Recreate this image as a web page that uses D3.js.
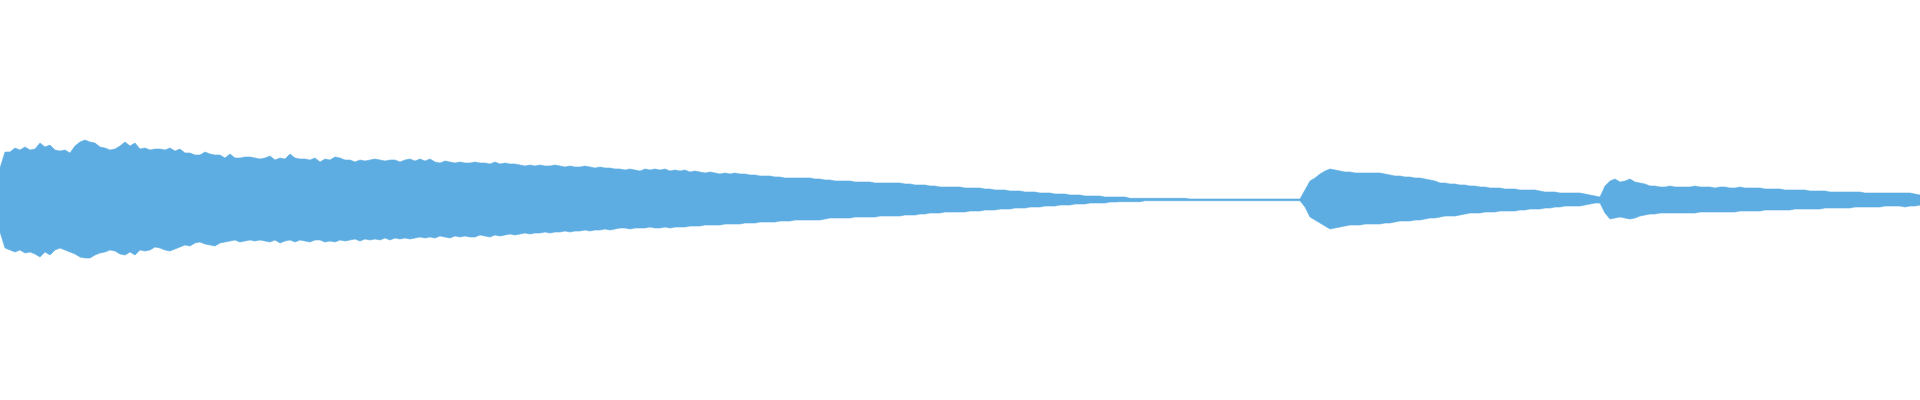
<!DOCTYPE html>
<html>
<head>
<meta charset="utf-8">
<script src="https://cdn.jsdelivr.net/npm/d3@7"></script>
<style>
  html, body { margin: 0; padding: 0; background: #ffffff; }
  svg { display: block; }
</style>
</head>
<body>
<svg id="chart" width="1920" height="400"></svg>
<script>
// Waveform envelope, one sample every 5 px-column (385 samples), amplitude units of 1/200 full scale
const upperPeaks = [
  32,48,48,52,50,53,50,51,57,53,55,50,49,50,47,54,58,60,58,57,53,52,50,51,54,58,54,57,51,52,50,51,
  51,50,52,49,51,47,47,45,45,48,46,45,45,42,46,42,42,43,43,42,41,42,44,40,42,41,46,42,41,41,40,42,
  38,41,40,43,42,40,40,38,40,39,40,41,40,39,40,40,38,40,41,39,41,39,41,38,37,39,38,37,38,37,37,38,
  37,37,36,38,36,37,36,36,35,34,35,34,35,34,34,35,34,33,34,33,33,34,33,32,33,32,32,31,31,30,31,30,
  29,31,30,31,30,31,29,30,29,30,28,29,28,27,28,27,26,27,26,27,26,26,25,25,24,24,24,23,23,22,22,22,
  22,22,22,21,21,20,20,19,19,19,19,18,18,18,18,17,17,17,17,17,17,16,16,15,15,15,14,14,13,13,13,13,
  13,12,12,12,12,11,11,10,10,10,9,9,9,8,8,8,7,7,7,6,6,6,5,5,5,4,4,4,4,3,3,3,
  3,3,1.7,1.7,1.7,1.7,1.7,1.7,1.7,1.7,1.7,1.7,1.7,1.7,1,1,1,1,1,1,1,1,1,1,1,1,1,1,1,1,1,1,
  1,1,1,1,1,10,19,22,26,29,31,30,29,28,28,27,27,27,27,27,27,26,25,24,24,23,23,22,22,21,20,19,
  17,17,16,16,15,15,14,14,13,13,12,12,12,11,11,11,10,10,10,10,9,8,8,8,7,7,7,7,7,6,5,4,
  3,14,19,21,18,19,21,18,17,16,14,14,13,13,14,13,13,13,13,14,13,13,13,12,13,13,12,12,13,12,12,12,
  12,11,11,11,11,10,10,10,10,10,9,9,9,9,8,8,8,8,8,8,8,7,7,7,7,7,7,7,7,7,7,6,
  5
];
const lowerPeaks = [
  32,48,50,52,50,53,52,54,57,52,55,50,48,50,52,54,57,58,58,55,53,52,50,51,54,55,52,55,50,51,50,47,
  48,50,51,49,47,45,46,43,42,44,45,46,43,42,41,40,42,41,40,41,40,41,42,40,43,41,40,42,40,41,42,40,
  40,42,41,42,40,41,40,39,41,39,40,39,40,38,40,38,39,38,39,38,37,38,37,38,36,37,38,36,37,36,37,37,
  35,36,37,35,36,35,34,35,34,33,34,33,33,32,33,32,32,31,32,31,31,30,31,30,30,29,30,29,28,28,29,28,
  28,28,27,28,28,27,28,27,27,27,26,26,26,25,25,25,25,24,24,24,24,23,23,23,22,22,22,22,21,21,21,20,
  20,20,20,20,20,19,18,18,18,18,18,17,17,17,17,17,16,16,16,16,16,15,15,15,14,14,13,13,13,12,12,12,
  12,12,11,11,11,10,10,10,9,9,9,8,8,8,7,7,7,6,6,6,5,5,5,4,4,4,3,3,3,3,2,2,
  1.7,1.7,1.7,1.7,1.7,0.7,0.7,0.7,0.7,0.7,0.7,0.7,0.7,0.7,0.7,0.7,0.7,0.7,0.7,0.7,0.7,0.7,0.7,0.7,0.7,0.7,0.7,0.7,0.7,0.7,0.7,0.7,
  0.7,0.7,0.7,0.7,0.7,7,17,20,23,26,29,28,27,26,25,25,25,24,24,24,24,23,23,22,21,21,21,20,20,19,18,18,
  17,16,16,16,15,14,13,13,13,12,12,12,11,11,11,11,10,10,9,9,9,8,8,7,7,6,6,6,6,5,4,3,
  3,13,19,18,17,18,19,18,16,15,14,14,13,13,13,13,13,13,13,13,12,12,12,12,12,12,12,12,11,11,11,11,
  11,10,10,10,10,10,10,9,9,9,9,9,9,8,8,8,8,8,8,7,7,7,7,7,7,6,6,6,6,7,6,6,
  5
];
const amplitudeDomain = [-200, 200];

const width = 1920, height = 400;
const svg = d3.select("#chart");

const x = d3.scaleLinear().domain([0, upperPeaks.length - 1]).range([0, width]);
const y = d3.scaleLinear().domain(amplitudeDomain).range([height, 0]);

const samples = upperPeaks.map((u, i) => ({ i, hi: u, lo: -lowerPeaks[i] }));

const area = d3.area()
  .x(d => x(d.i))
  .y0(d => y(d.lo))
  .y1(d => y(d.hi))
  .curve(d3.curveLinear);

svg.append("path")
  .datum(samples)
  .attr("fill", "#5dade2")
  .attr("stroke", "#5dade2")
  .attr("stroke-width", 0.6)
  .attr("d", area);
</script>
</body>
</html>
